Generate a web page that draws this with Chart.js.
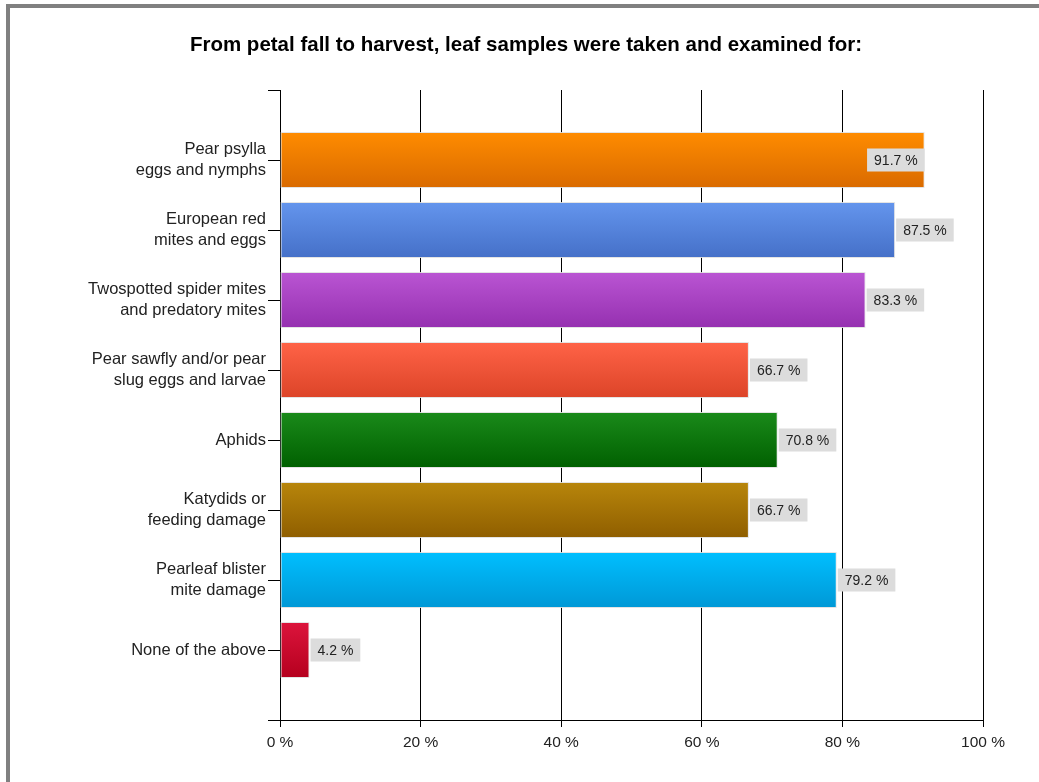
<!DOCTYPE html>
<html>
<head>
<meta charset="utf-8">
<script src="https://cdn.jsdelivr.net/npm/chart.js@4"></script>
<style>
  html, body { margin: 0; padding: 0; background: #fff; overflow: hidden; width: 1039px; height: 782px; }
  #frame {
    position: absolute; left: 6px; top: 4px;
    width: 1100px; height: 900px;
    border-left: 4px solid #808080; border-top: 4px solid #808080;
    background: #fff;
  }
  #chart { position: absolute; left: 0; top: 0; }
</style>
</head>
<body>
<div id="frame"><canvas id="chart" width="1032" height="772"></canvas></div>
<script>
const chartTitle = "From petal fall to harvest, leaf samples were taken and examined for:";

const categories = [
  ["Pear psylla", "eggs and nymphs"],
  ["European red", "mites and eggs"],
  ["Twospotted spider mites", "and predatory mites"],
  ["Pear sawfly and/or pear", "slug eggs and larvae"],
  ["Aphids"],
  ["Katydids or", "feeding damage"],
  ["Pearleaf blister", "mite damage"],
  ["None of the above"],
];

const percentages = [91.7, 87.5, 83.3, 66.7, 70.8, 66.7, 79.2, 4.2];

const topColors = ["#ff8c00", "#6495ed", "#ba55d3", "#ff6347", "#1a8a1a", "#b8860b", "#00bfff", "#dc143c"];
const bottomColors = ["#d96a00", "#4570c8", "#9530b0", "#dc4428", "#006000", "#8f5e00", "#0098d6", "#b5001e"];

const xTicks = [0, 20, 40, 60, 80, 100];

// empty slots above and below so the bars sit one band in from the axis ends
const labels = [""].concat(categories, [""]);
const values = [null].concat(percentages, [null]);

const FONT = "'Liberation Sans', Arial, sans-serif";

function barGradient(ctx) {
  const chart = ctx.chart;
  const i = ctx.dataIndex - 1;
  if (i < 0 || i >= percentages.length) return "#ccc";
  const yScale = chart.scales.y;
  if (!yScale || !chart.chartArea) return topColors[i];
  const y = yScale.getPixelForValue(ctx.dataIndex);
  const g = chart.ctx.createLinearGradient(0, y - 28, 0, y + 28);
  g.addColorStop(0, topColors[i]);
  g.addColorStop(1, bottomColors[i]);
  return g;
}

const titlePlugin = {
  id: "topTitle",
  afterDraw(chart) {
    const c = chart.ctx;
    c.save();
    c.font = "bold 20.5px " + FONT;
    c.fillStyle = "#000";
    c.textAlign = "center";
    c.textBaseline = "middle";
    c.fillText(chartTitle, chart.width / 2, 37);
    c.restore();
  },
};

const valueLabels = {
  id: "valueLabels",
  afterDatasetsDraw(chart) {
    const c = chart.ctx;
    const meta = chart.getDatasetMeta(0);
    c.save();
    c.font = "14px " + FONT;
    c.textBaseline = "middle";
    meta.data.forEach((bar, idx) => {
      const v = values[idx];
      if (v == null) return;
      const text = v.toFixed(1) + " %";
      const w = c.measureText(text).width + 14;
      const h = 23;
      let x = bar.x + 1;
      if (x + w > chart.chartArea.right - 5) x = bar.x - w;
      c.fillStyle = "#dcdcdc";
      c.fillRect(x, bar.y - h / 2, w, h);
      c.fillStyle = "#222";
      c.textAlign = "left";
      c.fillText(text, x + 7, bar.y + 1);
    });
    c.restore();
  },
};

new Chart(document.getElementById("chart"), {
  type: "bar",
  data: {
    labels: labels,
    datasets: [{
      data: values,
      backgroundColor: barGradient,
      borderColor: "rgba(225,225,225,0.9)",
      borderWidth: 1,
      borderSkipped: false,
      categoryPercentage: 0.8,
      barPercentage: 1.0,
    }],
  },
  options: {
    indexAxis: "y",
    responsive: false,
    animation: false,
    devicePixelRatio: 1,
    layout: { padding: { top: 82, right: 59, left: 0, bottom: 0 } },
    plugins: {
      legend: { display: false },
      title: { display: false },
      tooltip: { enabled: false },
    },
    scales: {
      x: {
        min: 0,
        max: 100,
        afterBuildTicks: (scale) => { scale.ticks = xTicks.map((v) => ({ value: v })); },
        afterFit: (scale) => { scale.height = 60; },
        grid: { color: "#000", lineWidth: 1, tickLength: 7, drawTicks: true },
        border: { display: true, color: "#000" },
        ticks: {
          color: "#222",
          font: { family: FONT, size: 15.5 },
          padding: 6,
          callback: (v) => v + " %",
          maxRotation: 0,
        },
      },
      y: {
        offset: false,
        afterFit: (scale) => { scale.width = 270; },
        grid: { display: true, offset: false, drawOnChartArea: false, color: "#000", tickLength: 12 },
        border: { display: true, color: "#000" },
        ticks: {
          color: "#222",
          font: { family: FONT, size: 16.5, lineHeight: 1.22 },
          padding: 2,
          autoSkip: false,
        },
      },
    },
  },
  plugins: [titlePlugin, valueLabels],
});
</script>
</body>
</html>
